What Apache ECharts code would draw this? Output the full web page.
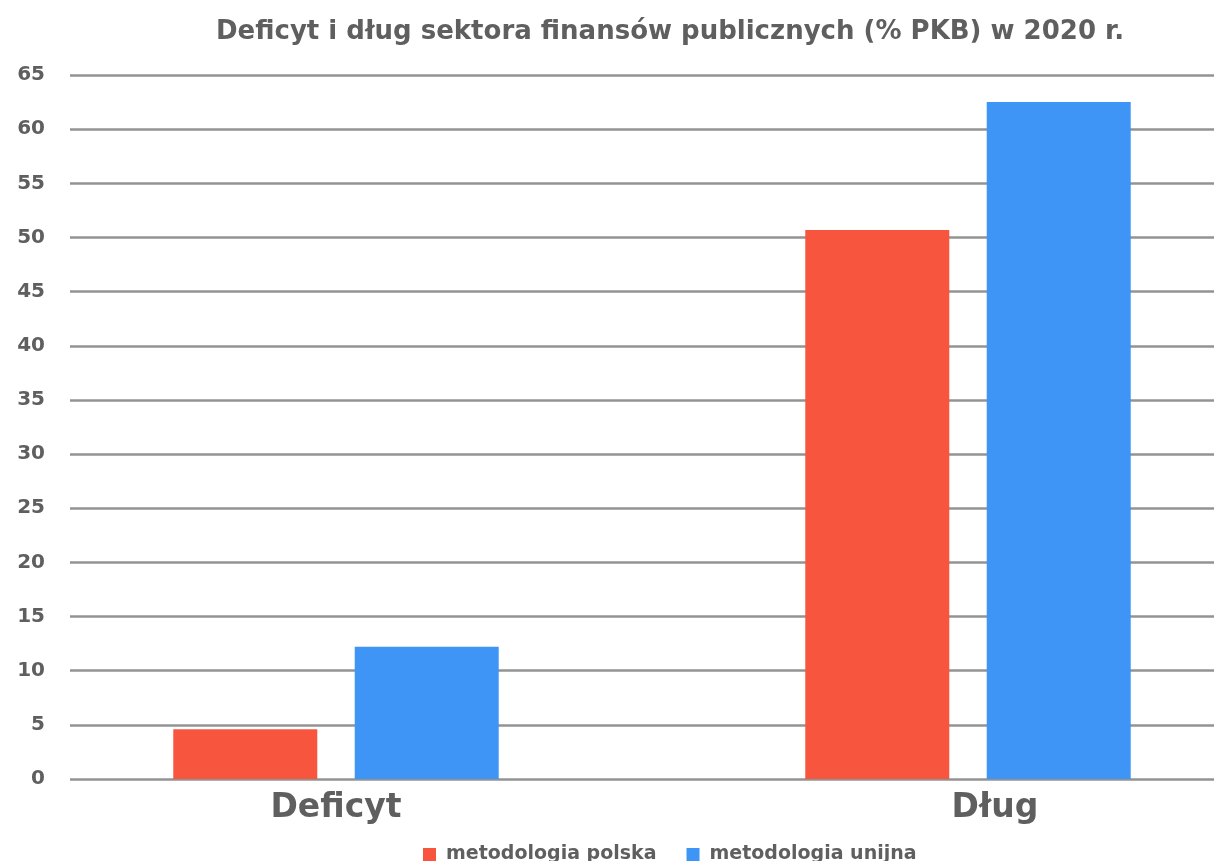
<!DOCTYPE html>
<html style="height: 100%">
   <head>
       <meta charset="utf-8">
   </head>
   <body style="height: 100%; margin: 0; background: #fff; overflow: hidden">
       <!-- chart is wider than the window: the original is cropped on the right -->
       <div id="container" style="width: 1284px; height: 861px"></div>
       <script type="text/javascript" src="https://cdn.jsdelivr.net/npm/echarts@6/dist/echarts.min.js"></script>
       <script type="text/javascript">

var categories = ['Deficyt', 'Dług'];
var seriesNames = ['metodologia polska', 'metodologia unijna'];
var polska = [4.6, 50.7];
var unijna = [12.2, 62.5];
var titleText = 'Deficyt i dług sektora finansów publicznych (% PKB) w 2020 r.';

var dom = document.getElementById("container");
var myChart = echarts.init(dom);
var gray = '#5f5f5f';
var font = 'DejaVu Sans';

var option = {
    backgroundColor: '#fff',
    title: {
        text: titleText,
        left: 665,
        textAlign: 'center',
        top: 14,
        textStyle: {
            fontFamily: font,
            fontWeight: 'bold',
            fontSize: 26,
            color: gray
        }
    },
    legend: {
        data: seriesNames,
        left: 418,
        top: 840,
        itemWidth: 13,
        itemHeight: 13,
        itemGap: 30,
        icon: 'rect',
        textStyle: {
            fontFamily: font,
            fontWeight: 'bold',
            fontSize: 19,
            color: gray,
            padding: [0, 0, 0, 5]
        }
    },
    grid: [
        // bars
        { left: 20, right: 0, top: 75, bottom: 82 },
        // background gridlines + labels
        { left: 70, right: 70, top: 75, bottom: 82 }
    ],
    xAxis: [
        {
            gridIndex: 0,
            type: 'category',
            data: categories,
            axisLine: { show: false },
            axisTick: { show: false },
            axisLabel: {
                margin: 13,
                fontFamily: font,
                fontWeight: 'bold',
                fontSize: 33,
                color: gray,
                formatter: function (v, i) {
                    return i === 1 ? '{r|' + v + '}' : v;
                },
                rich: {
                    r: {
                        fontFamily: font,
                        fontWeight: 'bold',
                        fontSize: 33,
                        color: gray,
                        padding: [0, 0, 0, 54]
                    }
                }
            }
        },
        {
            gridIndex: 1,
            type: 'value',
            min: 0,
            max: 1,
            show: false
        }
    ],
    yAxis: [
        {
            gridIndex: 0,
            type: 'value',
            min: 0,
            max: 65,
            interval: 5,
            show: false
        },
        {
            gridIndex: 1,
            type: 'value',
            min: 0,
            max: 65,
            interval: 5,
            axisLine: { show: false },
            axisTick: { show: false },
            axisLabel: {
                margin: 25,
                fontFamily: font,
                fontWeight: 'bold',
                fontSize: 20,
                color: gray
            },
            splitLine: {
                lineStyle: { color: '#939393', width: 2.5 }
            }
        }
    ],
    series: [
        {
            name: seriesNames[0],
            type: 'bar',
            xAxisIndex: 0,
            yAxisIndex: 0,
            data: polska,
            barWidth: 144,
            barGap: '26%',
            itemStyle: { color: '#F8553E' }
        },
        {
            name: seriesNames[1],
            type: 'bar',
            xAxisIndex: 0,
            yAxisIndex: 0,
            data: unijna,
            barWidth: 144,
            barGap: '26%',
            itemStyle: { color: '#3E95F6' }
        }
    ]
};

myChart.setOption(option);
window.onresize = function() {
    myChart.resize();
};
       </script>
   </body>
</html>
